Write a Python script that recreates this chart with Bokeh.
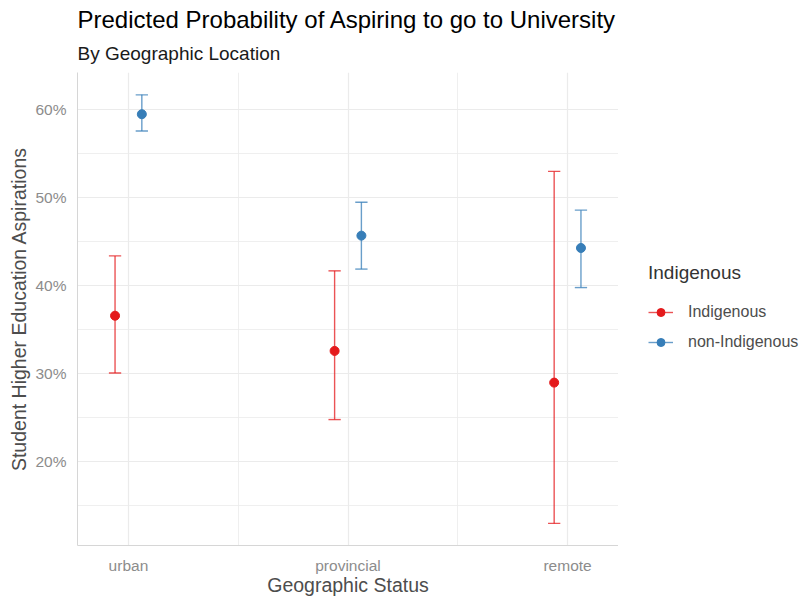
from bokeh.plotting import figure
from bokeh.layouts import row
from bokeh.models import (Range1d, FixedTicker, NumeralTickFormatter, Title, Legend,
                          LegendItem, ColumnDataSource)
from bokeh.transform import dodge
from bokeh.embed import file_html
from bokeh.resources import INLINE

categories = ["urban", "provincial", "remote"]
cat_pos = [1, 2, 3]
ind_mean = [0.366, 0.326, 0.290]
ind_lo = [0.301, 0.248, 0.130]
ind_hi = [0.434, 0.417, 0.530]
non_mean = [0.595, 0.457, 0.443]
non_lo = [0.576, 0.419, 0.398]
non_hi = [0.617, 0.495, 0.486]
groups = ["Indigenous", "non-Indigenous"]

RED = "#E41A1C"
BLUE = "#377EB8"
FONT = "Liberation Sans"

p = figure(width=618, height=601, output_backend="svg", toolbar_location=None,
           x_range=Range1d(0.768, 3.232), y_range=Range1d(0.1049, 0.6424),
           min_border_left=77, min_border_right=0, min_border_top=72, min_border_bottom=56,
           title=None)
p.outline_line_color = None
p.background_fill_color = "white"
p.border_fill_color = "white"

# subtitle then main title (stacked outward)
sub = Title(text="By Geographic Location", align="left", text_font=FONT,
            text_font_size="19px", text_font_style="normal", text_color="#1a1a1a",
            offset=0, standoff=17)
p.add_layout(sub, "above")
main = Title(text="Predicted Probability of Aspiring to go to University", align="left",
             text_font=FONT, text_font_size="24px", text_font_style="normal",
             text_color="#000000", offset=0, standoff=0)
p.add_layout(main, "above")

src_i = ColumnDataSource(dict(x=cat_pos, m=ind_mean, lo=ind_lo, hi=ind_hi))
src_n = ColumnDataSource(dict(x=cat_pos, m=non_mean, lo=non_lo, hi=non_hi))

off = 0.061
cap = 0.028
for src, col, sign in [(src_i, RED, -1), (src_n, BLUE, 1)]:
    p.segment(x0=dodge("x", sign * off), x1=dodge("x", sign * off), y0="lo", y1="hi",
              source=src, line_color=col, line_width=1.4, line_alpha=0.75)
    p.segment(x0=dodge("x", sign * off - cap), x1=dodge("x", sign * off + cap), y0="hi", y1="hi",
              source=src, line_color=col, line_width=1.4, line_alpha=0.75)
    p.segment(x0=dodge("x", sign * off - cap), x1=dodge("x", sign * off + cap), y0="lo", y1="lo",
              source=src, line_color=col, line_width=1.4, line_alpha=0.75)
    p.scatter(x=dodge("x", sign * off), y="m", source=src, size=9, fill_color=col,
              line_color=col)

# axes
p.xaxis.ticker = FixedTicker(ticks=cat_pos, minor_ticks=[1.5, 2.5])
p.xaxis.major_label_overrides = {c: n for c, n in zip(cat_pos, categories)}
p.yaxis.ticker = FixedTicker(ticks=[0.2, 0.3, 0.4, 0.5, 0.6],
                             minor_ticks=[0.15, 0.25, 0.35, 0.45, 0.55])
p.yaxis.formatter = NumeralTickFormatter(format="0%")
p.xaxis.axis_label = "Geographic Status"
p.yaxis.axis_label = "Student Higher Education Aspirations"
for ax in (p.xaxis, p.yaxis):
    ax.axis_line_color = "#d6d6d6"
    ax.axis_line_width = 1
    ax.major_tick_line_color = None
    ax.minor_tick_line_color = None
    ax.major_label_text_font = FONT
    ax.major_label_text_font_size = "15.5px"
    ax.major_label_text_color = "#8c8c8c"
    ax.axis_label_text_font = FONT
    ax.axis_label_text_font_size = "19.5px"
    ax.axis_label_text_font_style = "normal"
    ax.axis_label_text_color = "#4d4d4d"
p.xaxis.major_label_standoff = 5
p.xaxis.axis_label_standoff = -3
p.yaxis.major_label_standoff = 5
p.yaxis.axis_label_standoff = 2

p.xgrid.grid_line_color = "#ebebeb"
p.ygrid.grid_line_color = "#ebebeb"
p.xgrid.minor_grid_line_color = "#ebebeb"
p.ygrid.minor_grid_line_color = "#ebebeb"
p.xgrid.grid_line_width = 1.2
p.ygrid.grid_line_width = 1.2
p.xgrid.minor_grid_line_width = 0.8
p.ygrid.minor_grid_line_width = 0.8

# legend panel
q = figure(width=188, height=601, output_backend="svg", toolbar_location=None,
           x_range=Range1d(0, 1), y_range=Range1d(0, 1),
           min_border_left=0, min_border_right=0, min_border_top=0, min_border_bottom=0)
q.axis.visible = False
q.grid.visible = False
q.outline_line_color = None
q.border_fill_color = "white"
items = []
for lab, col in zip(groups, [RED, BLUE]):
    dummy = ColumnDataSource(dict(x=[-10], y=[-10]))
    s = q.segment(x0="x", x1="x", y0="y", y1="y", source=dummy, line_color=col,
                  line_width=1.4, line_alpha=0.75)
    d = q.scatter(x="x", y="y", source=dummy, size=9, fill_color=col, line_color=col)
    items.append(LegendItem(label=lab, renderers=[s, d]))
legend = Legend(items=items, location=(30, 193), title="Indigenous",
                title_text_font=FONT, title_text_font_size="19px", title_text_color="#333333",
                title_text_font_style="normal",
                label_text_font=FONT, label_text_font_size="16px", label_text_color="#4d4d4d",
                border_line_color=None, background_fill_alpha=0, glyph_width=25,
                glyph_height=20, label_height=20,
                spacing=10, padding=6, title_standoff=18, label_standoff=15)
q.add_layout(legend)

layout = row(p, q, spacing=0)
open("out.html", "w").write(file_html(layout, INLINE))
